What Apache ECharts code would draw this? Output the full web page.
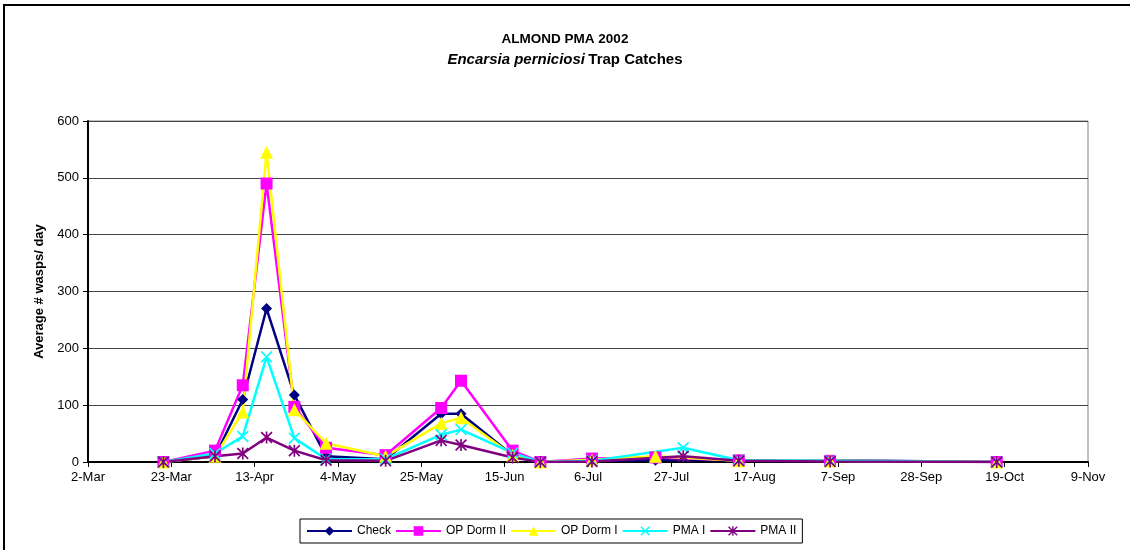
<!DOCTYPE html>
<html>
<head>
<meta charset="utf-8">
<script src="https://cdn.jsdelivr.net/npm/echarts@6/dist/echarts.min.js"></script>
<style>
html,body{margin:0;padding:0;background:#fff;}
#chart{width:1130px;height:550px;}
</style>
</head>
<body>
<div id="chart"></div>
<script>
// Sampling dates (2002)
const dates = ['2002-03-21','2002-04-03','2002-04-10','2002-04-16','2002-04-23','2002-05-01','2002-05-16','2002-05-30','2002-06-04','2002-06-17','2002-06-24','2002-07-07','2002-07-23','2002-07-30','2002-08-13','2002-09-05','2002-10-17'];
const check    = [0, 10, 110, 270, 118, 10, 5, 85, 85, 12, 0, 2, 3, null, 3, 3, 0];
const opDormII = [0, 20, 135, 490, 97, 25, 12, 95, 143, 20, 0, 6, 8, null, 3, 2, 0];
const opDormI  = [0, 10, 88, 545, 92, 33, 10, 68, 78, 12, 0, 4, 10, null, 2, 2, 0];
const pmaI     = [0, 15, 45, 185, 42, 5, 5, 48, 57, 16, 0, 2, null, 25, 3, 2, 0];
const pmaII    = [0, 10, 15, 43, 20, 3, 2, 38, 30, 8, 0, 1, null, 10, 2, 1, 0];
const seriesNames = ['Check','OP Dorm II','OP Dorm I','PMA I','PMA II'];
const yTicks = [0, 100, 200, 300, 400, 500, 600];

const startDate = Date.UTC(2002, 2, 2);
const DAY = 86400000;
const months = ['Jan','Feb','Mar','Apr','May','Jun','Jul','Aug','Sep','Oct','Nov','Dec'];
function dayOffset(s){ const p = s.split('-'); return Math.round((Date.UTC(+p[0], +p[1]-1, +p[2]) - startDate)/DAY); }
function fmt(v){ const d = new Date(startDate + v*DAY); return d.getUTCDate() + '-' + months[d.getUTCMonth()]; }
function pairs(vals){ return vals.map((v,i)=> v===null ? null : [dayOffset(dates[i]), v]).filter(p=>p!==null); }

const X_SYM = 'path://M0,1 L1,0 L5,4 L9,0 L10,1 L6,5 L10,9 L9,10 L5,6 L1,10 L0,9 L4,5 Z';
const AST_SYM = 'path://M0,1 L1,0 L5,4 L9,0 L10,1 L6,5 L10,9 L9,10 L5,6 L1,10 L0,9 L4,5 Z M4.3,0 L5.7,0 L5.7,10 L4.3,10 Z';

const styles = [
  {data: check,    color:'#000080', symbol:'diamond',  size:11},
  {data: opDormII, color:'#FF00FF', symbol:'rect',     size:12},
  {data: opDormI,  color:'#FFFF00', symbol:'triangle', size:13},
  {data: pmaI,     color:'#00FFFF', symbol:X_SYM,      size:12},
  {data: pmaII,    color:'#800080', symbol:AST_SYM,    size:12}
];

const chart = echarts.init(document.getElementById('chart'), null, {renderer:'canvas'});
const font = '"Liberation Sans", Arial, sans-serif';
chart.setOption({
  animation:false,
  backgroundColor:'#fff',
  textStyle:{fontFamily:font},
  graphic:[{type:'rect', shape:{x:4, y:5, width:1200, height:600}, style:{fill:'none', stroke:'#000', lineWidth:2}, silent:true}],
  title:{
    text:'ALMOND PMA 2002',
    subtext:'{i|Encarsia perniciosi} {b|Trap Catches}',
    left:'center', top:27, itemGap:6,
    textStyle:{fontSize:13.5, fontWeight:'bold', color:'#000', fontFamily:font},
    subtextStyle:{color:'#000', fontFamily:font, rich:{
      i:{fontSize:15, fontWeight:'bold', fontStyle:'italic', color:'#000', fontFamily:font},
      b:{fontSize:15, fontWeight:'bold', color:'#000', fontFamily:font}
    }}
  },
  legend:{
    data:seriesNames,
    left:300, bottom:7,
    borderColor:'#000', borderWidth:1, borderRadius:0,
    padding:[6,6,6,6],
    itemWidth:45, itemHeight:12, itemGap:4,
    textStyle:{fontSize:12, color:'#000', fontFamily:font}
  },
  grid:{left:88, right:42, top:121, bottom:88, show:true, borderColor:'#808080', borderWidth:1},
  xAxis:{
    type:'value', min:0, max:252, interval:21,
    axisLine:{show:true, onZero:false, lineStyle:{color:'#000', width:2}},
    axisTick:{show:true, length:5, lineStyle:{color:'#000'}},
    axisLabel:{formatter:fmt, fontSize:13, color:'#000', margin:9, fontFamily:font},
    splitLine:{show:false}
  },
  yAxis:{
    type:'value', min:yTicks[0], max:yTicks[yTicks.length-1], interval:100,
    name:'Average # wasps/ day', nameLocation:'middle', nameGap:41,
    nameTextStyle:{fontSize:13, fontWeight:'bold', color:'#000', fontFamily:font},
    axisLine:{show:true, lineStyle:{color:'#000', width:2}},
    axisTick:{show:true, length:5, lineStyle:{color:'#000'}},
    axisLabel:{fontSize:13, color:'#000', margin:9, fontFamily:font},
    splitLine:{show:true, lineStyle:{color:'#444', width:1}}
  },
  series: styles.map((s,i)=>({
    name:seriesNames[i], type:'line', data:pairs(s.data),
    symbol:s.symbol, symbolSize:s.size, showAllSymbol:true,
    connectNulls:true,
    lineStyle:{color:s.color, width:2.5},
    itemStyle:{color:s.color, borderWidth:0}
  }))
});
</script>
</body>
</html>
